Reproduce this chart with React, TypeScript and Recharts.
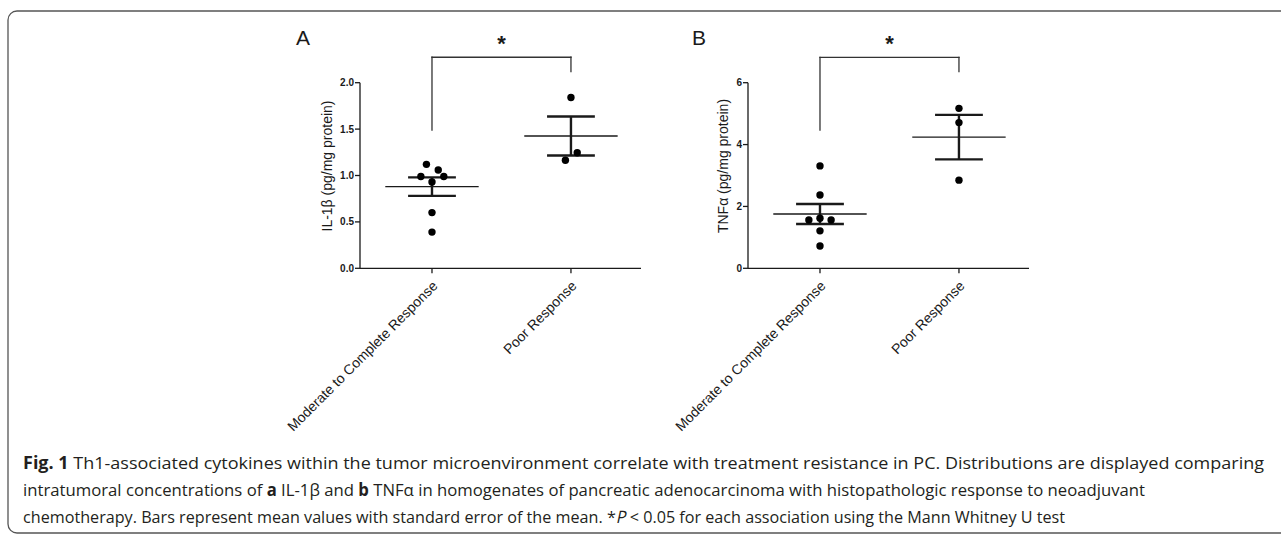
import React from 'react';
import { ComposedChart, Scatter, XAxis, YAxis, ReferenceLine, ReferenceDot } from 'recharts';

// ---- data ----
const categories = ['Moderate to Complete Response', 'Poor Response'];
const categoryX = [1, 2];

const il1bModerate = [1.12, 1.06, 0.99, 0.99, 0.93, 0.6, 0.39];
const il1bModerateJitter = [-0.04, 0.045, -0.08, 0.085, 0, 0, 0];
const il1bPoor = [1.84, 1.245, 1.165];
const il1bPoorJitter = [0, 0.045, -0.04];
const il1bMean = [0.88, 1.425];
const il1bSem = [0.1, 0.21];
const il1bTicks = [0, 0.5, 1.0, 1.5, 2.0];
const il1bBracket = [2.274, 1.49, 2.119]; // top, left leg end, right leg end

const tnfModerate = [3.31, 2.37, 1.62, 1.56, 1.56, 1.21, 0.72];
const tnfModerateJitter = [0, 0, 0, -0.08, 0.08, 0, 0];
const tnfPoor = [5.17, 4.71, 2.85];
const tnfPoorJitter = [0, 0, 0];
const tnfMean = [1.755, 4.24];
const tnfSem = [0.325, 0.72];
const tnfTicks = [0, 2, 4, 6];
const tnfBracket = [6.82, 4.47, 6.356];

type Run = { t: string; b?: boolean; i?: boolean };
const captionLine1: Run[] = [
  { t: 'Fig. 1', b: true },
  { t: ' Th1-associated cytokines within the tumor microenvironment correlate with treatment resistance in PC. Distributions are displayed comparing' },
];
const captionLine2: Run[] = [
  { t: 'intratumoral concentrations of ' },
  { t: 'a', b: true },
  { t: ' IL-1β and ' },
  { t: 'b', b: true },
  { t: ' TNFα in homogenates of pancreatic adenocarcinoma with histopathologic response to neoadjuvant' },
];
const captionLine3: Run[] = [
  { t: 'chemotherapy. Bars represent mean values with standard error of the mean. *' },
  { t: 'P', i: true },
  { t: ' < 0.05 for each association using the Mann Whitney U test' },
];

const FONT = '"Liberation Sans", Arial, Helvetica, sans-serif';
const CAP_FONT = '"Open Sans", "DejaVu Sans Condensed", sans-serif';
const CAP_SIZE = 17;
const INK = '#1a1a1a';

let measureCtx: CanvasRenderingContext2D | null = null;
function measure(text: string, bold?: boolean) {
  if (!measureCtx) {
    const c = document.createElement('canvas');
    measureCtx = c.getContext('2d');
  }
  if (!measureCtx) return text.length * CAP_SIZE * 0.5;
  measureCtx.font = `${bold ? 'bold ' : ''}${CAP_SIZE}px ${CAP_FONT}`;
  return measureCtx.measureText(text).width;
}

function CaptionLine({ runs, x, y, width }: { runs: Run[]; x: number; y: number; width: number }) {
  const widths = runs.map((r) => measure(r.t, r.b));
  const total = widths.reduce((a, b) => a + b, 0);
  const k = width / total;
  let cur = x;
  return (
    <g>
      {runs.map((r, idx) => {
        const w = widths[idx] * k;
        const lead = r.t.length - r.t.trimStart().length;
        const leadW = lead ? measure(r.t.slice(0, lead), r.b) * k : 0;
        const body = r.t.trim();
        const bodyW = measure(body, r.b) * k;
        const tx = cur + leadW;
        const el = (
          <text
            key={idx}
            x={tx}
            y={y}
            fontSize={CAP_SIZE}
            fontFamily={CAP_FONT}
            fontWeight={r.b ? 'bold' : 'normal'}
            fill="#231f20"
            textLength={bodyW}
            lengthAdjust="spacingAndGlyphs"
            transform={r.i ? `translate(${tx} ${y}) skewX(-12) translate(${-tx} ${-y})` : undefined}
          >
            {body}
          </text>
        );
        cur += w;
        return el;
      })}
    </g>
  );
}

const XTick = (props: any) => {
  const { x, y, payload } = props;
  const idx = categoryX.indexOf(payload.value);
  const ax = x + 3;
  const ay = y + 8;
  return (
    <text
      x={ax}
      y={ay}
      transform={`rotate(-45 ${ax} ${ay})`}
      textAnchor="end"
      dominantBaseline="central"
      fontSize={14}
      fontFamily={FONT}
      fill={INK}
    >
      {categories[idx]}
    </text>
  );
};

const makeYLabel = (gap: number, text: string) => (props: any) => {
  const vb = props.viewBox || { x: 0, y: 0, width: 0, height: 0 };
  const cx = vb.x + vb.width - gap;
  const cy = vb.y + vb.height / 2 - 9.5;
  return (
    <text
      x={cx}
      y={cy}
      transform={`rotate(-90 ${cx} ${cy})`}
      textAnchor="middle"
      dominantBaseline="central"
      fontSize={14}
      fontFamily={FONT}
      fill={INK}
    >
      {text}
    </text>
  );
};

const Dot = (props: any) => <circle cx={props.cx} cy={props.cy} r={3.7} fill="#000" />;

type PanelProps = {
  left: number;
  moderate: number[];
  moderateJitter: number[];
  poor: number[];
  poorJitter: number[];
  mean: number[];
  sem: number[];
  ticks: number[];
  decimals: number;
  bracket: number[];
  yLabel: string;
  yLabelGap: number;
};

function Panel(p: PanelProps) {
  const modPts = p.moderate.map((v, i) => ({ x: categoryX[0] + p.moderateJitter[i], y: v }));
  const poorPts = p.poor.map((v, i) => ({ x: categoryX[1] + p.poorJitter[i], y: v }));
  const yMax = p.ticks[p.ticks.length - 1];
  const meanHalf = 0.336;
  const capHalf = 0.172;
  const errLines: any[] = [];
  categoryX.forEach((cx, i) => {
    const m = p.mean[i];
    const s = p.sem[i];
    errLines.push({ seg: [{ x: cx - meanHalf, y: m }, { x: cx + meanHalf, y: m }], w: 1.4, k: `m${i}` });
    errLines.push({ seg: [{ x: cx - capHalf, y: m + s }, { x: cx + capHalf, y: m + s }], w: 2.4, k: `t${i}` });
    errLines.push({ seg: [{ x: cx - capHalf, y: m - s }, { x: cx + capHalf, y: m - s }], w: 2.4, k: `b${i}` });
    errLines.push({ seg: [{ x: cx, y: m - s }, { x: cx, y: m + s }], w: 2.4, k: `v${i}` });
  });
  const [bTop, bLeft, bRight] = p.bracket;
  const bracketSegs = [
    [{ x: categoryX[0], y: bLeft }, { x: categoryX[0], y: bTop }],
    [{ x: categoryX[0], y: bTop }, { x: categoryX[1], y: bTop }],
    [{ x: categoryX[1], y: bTop }, { x: categoryX[1], y: bRight }],
  ];
  return (
    <div style={{ position: 'absolute', left: p.left, top: 0 }}>
      <ComposedChart width={420} height={450} margin={{ top: 82.7, right: 29, bottom: 0, left: 0 }}>
        <XAxis
          type="number"
          dataKey="x"
          domain={[0.482, 2.504]}
          ticks={categoryX}
          interval={0}
          tickSize={5}
          height={181.7}
          allowDataOverflow
          axisLine={{ stroke: INK, strokeWidth: 1.3 }}
          tickLine={{ stroke: INK, strokeWidth: 1.3 }}
          tick={XTick}
        />
        <YAxis
          type="number"
          dataKey="y"
          domain={[0, yMax]}
          ticks={p.ticks}
          interval={0}
          width={110}
          tickSize={5}
          tickMargin={1}
          allowDataOverflow
          tickFormatter={(v: number) => v.toFixed(p.decimals)}
          axisLine={{ stroke: INK, strokeWidth: 1.3 }}
          tickLine={{ stroke: INK, strokeWidth: 1.3 }}
          tick={{ fontSize: 10, fontWeight: 'bold', fill: INK, fontFamily: FONT }}
          label={{ content: makeYLabel(p.yLabelGap, p.yLabel) }}
        />
        {bracketSegs.map((s, i) => (
          <ReferenceLine
            key={`br${i}`}
            segment={s}
            ifOverflow="visible"
            stroke="#333"
            strokeWidth={1.3}
            strokeLinecap="square"
          />
        ))}
        <ReferenceDot
          x={(categoryX[0] + categoryX[1]) / 2}
          y={bTop}
          ifOverflow="visible"
          shape={(props: any) => (
            <text
              x={props.cx}
              y={props.cy - 6}
              textAnchor="middle"
              fontSize={22}
              fontWeight="bold"
              fontFamily={FONT}
              fill={INK}
            >
              *
            </text>
          )}
        />
        {errLines.map((l) => (
          <ReferenceLine key={l.k} segment={l.seg} ifOverflow="visible" stroke={INK} strokeWidth={l.w} />
        ))}
        <Scatter data={modPts} shape={Dot} isAnimationActive={false} />
        <Scatter data={poorPts} shape={Dot} isAnimationActive={false} />
      </ComposedChart>
    </div>
  );
}

export default function App() {
  return (
    <div style={{ position: 'absolute', left: 0, top: 0, width: 1281, height: 538, background: '#fff', overflow: 'hidden' }}>
      <svg width={1281} height={538} style={{ position: 'absolute', left: 0, top: 0 }}>
        <rect x={8} y={11} width={1320} height={522} rx={9} fill="none" stroke="#555" strokeWidth={1.3} />
        <text x={296} y={45} fontSize={21} fontFamily={FONT} fill={INK}>A</text>
        <text x={692} y={45} fontSize={21} fontFamily={FONT} fill={INK}>B</text>
        <CaptionLine runs={captionLine1} x={23} y={469} width={1241} />
        <CaptionLine runs={captionLine2} x={23} y={496} width={1122} />
        <CaptionLine runs={captionLine3} x={23} y={523} width={1042} />
      </svg>
      <Panel
        left={250}
        moderate={il1bModerate}
        moderateJitter={il1bModerateJitter}
        poor={il1bPoor}
        poorJitter={il1bPoorJitter}
        mean={il1bMean}
        sem={il1bSem}
        ticks={il1bTicks}
        decimals={1}
        bracket={il1bBracket}
        yLabel="IL-1β (pg/mg protein)"
        yLabelGap={33}
      />
      <Panel
        left={638}
        moderate={tnfModerate}
        moderateJitter={tnfModerateJitter}
        poor={tnfPoor}
        poorJitter={tnfPoorJitter}
        mean={tnfMean}
        sem={tnfSem}
        ticks={tnfTicks}
        decimals={0}
        bracket={tnfBracket}
        yLabel="TNFα (pg/mg protein)"
        yLabelGap={25}
      />
    </div>
  );
}
